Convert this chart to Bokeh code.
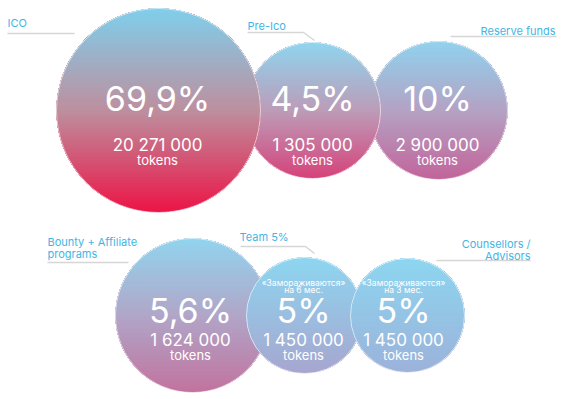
import numpy as np
from bokeh.plotting import figure
from bokeh.models import Range1d, ColumnDataSource
from bokeh.core.properties import value
from bokeh.embed import file_html
from bokeh.resources import INLINE

# ---------------- data ----------------
categories = ["ICO", "Pre-Ico", "Reserve funds", "Bounty + Affiliate\nprograms",
              "Team 5%", "Counsellors /\nAdvisors"]
percent_labels = ["69,9%", "4,5%", "10%", "5,6%", "5%", "5%"]
token_labels = ["20 271 000", "1 305 000", "2 900 000", "1 624 000", "1 450 000", "1 450 000"]
unit_label = "tokens"
notes = ["", "", "", "", "«Замораживаются»\nна 6 мес.", "«Замораживаются»\nна 3 мес."]

# ---------------- layout (reference pixel coordinates) ----------------
cx = [158, 312, 438, 192, 304, 407]
cy = [110, 110, 110, 315, 315, 315]
cr = [102, 68, 69, 77, 58, 57]
draw_order = [2, 1, 0, 3, 4, 5]
gradients = [
    [(0.0, "#7fcfec"), (0.5, "#bd8f9e"), (1.0, "#ec1446")],
    [(0.0, "#8fd5ef"), (0.5, "#bc9cb8"), (1.0, "#d6427a")],
    [(0.0, "#90d2ee"), (0.5, "#b4a2c4"), (1.0, "#c2649a")],
    [(0.0, "#92d4ee"), (0.5, "#b0a6c8"), (1.0, "#c2729e")],
    [(0.0, "#8dd6f0"), (1.0, "#a7a6cf")],
    [(0.0, "#8dd6f0"), (1.0, "#9cb2da")],
]
pct_y = [98, 98, 98, 310, 310, 310]
num_y = [144, 144, 144, 339, 339, 339]
tok_y = [159, 159, 159, 354, 354, 354]
pct_x = [157, 312, 437, 190, 303, 403]

label_pos = [  # (x, y_first_line, align)
    (7, 22, "left"), (247, 25, "left"), (555, 30, "right"),
    (47, 241, "left"), (239, 236, "left"), (530, 243, "right"),
]
leader_lines = [
    ([7, 74], [33, 33]),
    ([247, 303, 314], [32, 32, 40]),
    ([450, 556], [36, 36]),
    ([47, 128], [262, 262]),
    ([240, 305, 314], [246, 246, 253]),
    ([436, 530], [260, 260]),
]

FONT = "Inter"
LABEL_COLOR = "#41b6e6"


def hex2rgb(h):
    h = h.lstrip("#")
    return np.array([int(h[i:i + 2], 16) for i in (0, 2, 4)], dtype=float)


def grad_color(stops, t):
    for (t0, c0), (t1, c1) in zip(stops[:-1], stops[1:]):
        if t <= t1:
            f = (t - t0) / (t1 - t0) if t1 > t0 else 0
            c = hex2rgb(c0) * (1 - f) + hex2rgb(c1) * f
            return "#%02x%02x%02x" % tuple(int(round(v)) for v in c)
    return stops[-1][1]


p = figure(width=563, height=399, output_backend="svg", toolbar_location=None,
           x_range=Range1d(0, 563), y_range=Range1d(399, 0), min_border=0)
p.axis.visible = False
p.grid.visible = False
p.outline_line_color = None
p.background_fill_color = "white"
p.border_fill_color = "white"

N = 70
for i in draw_order:
    xs, ys, cols = [], [], []
    top = cy[i] - cr[i]
    for k in range(N, 0, -1):
        t = k / N
        yc = top + 2 * cr[i] * t
        A = np.arccos(np.clip((cy[i] - yc) / cr[i], -1, 1))
        a = np.linspace(-A, A, 90)
        xs.append(list(cx[i] + cr[i] * np.sin(a)))
        ys.append(list(cy[i] - cr[i] * np.cos(a)))
        cols.append(grad_color(gradients[i], (k - 0.5) / N))
    src = ColumnDataSource(dict(xs=xs, ys=ys, c=cols))
    p.patches("xs", "ys", source=src, fill_color="c", line_color=None)
    p.circle(x=[cx[i]], y=[cy[i]], radius=[cr[i]], fill_color=None,
             line_color="white", line_alpha=0.6, line_width=1.0)

# texts inside circles
p.text(x=pct_x, y=pct_y, text=percent_labels, text_color="white",
       text_font=value(FONT), text_font_size="34px", text_align="center",
       text_baseline="middle")
p.text(x=pct_x, y=num_y, text=token_labels, text_color="white",
       text_font=value(FONT), text_font_size="17px", text_align="center",
       text_baseline="middle", text_font_style="normal")
p.text(x=pct_x, y=tok_y, text=[unit_label] * len(pct_x), text_color="white",
       text_font=value(FONT), text_font_size="13px", text_align="center",
       text_baseline="middle")

nx, ny, nt = [], [], []
for i, n in enumerate(notes):
    if n:
        for j, line in enumerate(n.split("\n")):
            nx.append(pct_x[i])
            ny.append(282 + j * 7)
            nt.append(line)
p.text(x=nx, y=ny, text=nt, text_color="white", text_font=value(FONT),
       text_font_size="8.5px", text_align="center", text_baseline="middle")

# leader lines
p.multi_line(xs=[l[0] for l in leader_lines], ys=[l[1] for l in leader_lines],
             line_color="#d6d6d6", line_width=1.5)

# category labels
for i, cat in enumerate(categories):
    x0, y0, al = label_pos[i]
    lines = cat.split("\n")
    p.text(x=[x0] * len(lines), y=[y0 + j * 12 for j in range(len(lines))], text=lines,
           text_color=LABEL_COLOR, text_font=value(FONT), text_font_size="11px",
           text_align=al, text_baseline="middle")

open("out.html", "w").write(file_html(p, INLINE))
